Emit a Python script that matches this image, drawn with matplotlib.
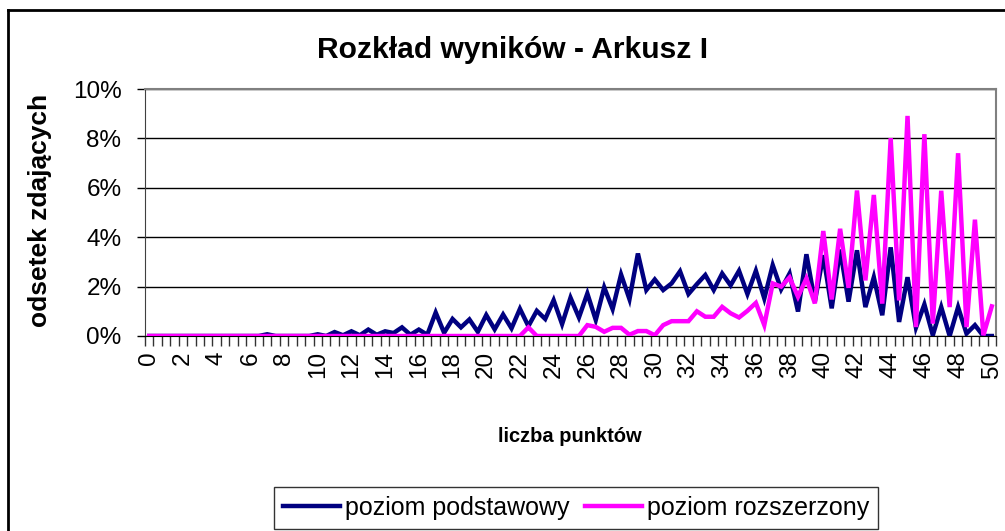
import numpy as np
import matplotlib
matplotlib.use("Agg")
import matplotlib.pyplot as plt
from matplotlib.ticker import FixedLocator, FuncFormatter, MultipleLocator
from matplotlib.lines import Line2D

plt.rcParams['font.family'] = ['Liberation Sans', 'DejaVu Sans']

# kategorie: liczba punktow co 0.5
punkty = np.arange(0, 50.5, 0.5)

# odsetek zdajacych (%), poziom podstawowy
podstawowy = [
    0, 0, 0, 0, 0, 0, 0, 0, 0, 0,
    0, 0, 0, 0, 0.07, 0, 0, 0, 0, 0,
    0.07, 0, 0.16, 0.03, 0.19, 0.03, 0.26, 0.05, 0.19, 0.12,
    0.35, 0.05, 0.26, 0.05, 0.95, 0.13, 0.69, 0.35, 0.67, 0.17,
    0.85, 0.27, 0.87, 0.31, 1.10, 0.40, 1.02, 0.69, 1.45, 0.48,
    1.55, 0.75, 1.72, 0.65, 1.97, 1.09, 2.49, 1.49, 3.34, 1.86,
    2.29, 1.86, 2.13, 2.62, 1.70, 2.10, 2.47, 1.86, 2.53, 2.05,
    2.64, 1.70, 2.64, 1.52, 2.87, 1.89, 2.53, 0.99, 3.31, 1.39,
    3.27, 1.12, 3.50, 1.39, 3.47, 1.17, 2.38, 0.84, 3.59, 0.57,
    2.38, 0.34, 1.28, 0.03, 1.17, 0.0, 1.17, 0.10, 0.44, 0.0,
    0.0,
]

# odsetek zdajacych (%), poziom rozszerzony
rozszerzony = [
    0, 0, 0, 0, 0, 0, 0, 0, 0, 0,
    0, 0, 0, 0, 0, 0, 0, 0, 0, 0,
    0, 0, 0, 0, 0, 0, 0, 0, 0, 0,
    0, 0, 0, 0, 0, 0, 0, 0, 0, 0,
    0, 0, 0, 0, 0, 0.35, 0, 0, 0, 0,
    0, 0, 0.44, 0.37, 0.17, 0.33, 0.33, 0.05, 0.20, 0.20,
    0.03, 0.44, 0.60, 0.60, 0.60, 1.00, 0.78, 0.78, 1.18, 0.92,
    0.75, 1.02, 1.34, 0.44, 2.13, 2.00, 2.37, 1.59, 2.33, 1.32,
    4.25, 1.48, 4.34, 1.95, 5.89, 2.25, 5.71, 1.31, 8.01, 1.44,
    8.91, 0.36, 8.17, 0.50, 5.88, 1.17, 7.40, 0.36, 4.71, 0.03,
    1.20,
]

y_ticks = [0, 2, 4, 6, 8, 10]

fig = plt.figure(figsize=(10.05, 5.31), dpi=100)
ax = fig.add_axes([145 / 1005, 1 - 336 / 531, 851 / 1005, 247 / 531])

x = np.arange(len(punkty))
ax.plot(x, np.array(podstawowy) / 100, color='#000080', lw=3.2,
        solid_joinstyle='miter', label='poziom podstawowy', zorder=3)
ax.plot(x, np.array(rozszerzony) / 100, color='#FF00FF', lw=3.2,
        solid_joinstyle='miter', label='poziom rozszerzony', zorder=4)

ax.set_xlim(-0.5, len(punkty) - 0.5)
ax.set_ylim(0, 0.10)

# os y
ax.yaxis.set_major_locator(FixedLocator([v / 100 for v in y_ticks]))
ax.yaxis.set_major_formatter(FuncFormatter(lambda v, p: '{:.0f}%'.format(v * 100)))
ax.tick_params(axis='y', direction='out', length=6, width=1, labelsize=17.5, pad=11)
ax.grid(axis='y', color='black', linewidth=1)
ax.set_axisbelow(True)

# os x: kreski miedzy kategoriami, etykiety co 2 punkty
ax.xaxis.set_major_locator(FixedLocator(x[::4]))
ax.set_xticklabels(['{:g}'.format(p) for p in punkty[::4]], rotation=90)
ax.xaxis.set_minor_locator(MultipleLocator(1, offset=0.5))
ax.tick_params(axis='x', which='major', length=0, labelsize=17.5, pad=11)
ax.tick_params(axis='x', which='minor', direction='out', length=7, width=1, color='#333333')

for s in ['top', 'right']:
    ax.spines[s].set_color('#808080')
    ax.spines[s].set_linewidth(1.5)
ax.spines['left'].set_color('#404040')
ax.spines['bottom'].set_color('black')

fig.text(513 / 1005, 1 - 50 / 531, 'Rozkład wyników - Arkusz I', ha='center', va='center',
         fontsize=21.6, fontweight='bold')
fig.text(40 / 1005, 1 - 210 / 531, 'odsetek zdających', ha='center', va='center',
         rotation=90, fontsize=19, fontweight='bold')
fig.text(570 / 1005, 1 - 437 / 531, 'liczba punktów', ha='center', va='center',
         fontsize=14.5, fontweight='bold')

leg = fig.legend(loc='center', bbox_to_anchor=(576 / 1005, 1 - 508 / 531), ncol=2,
                 fontsize=18, frameon=True, fancybox=False, shadow=False,
                 handlelength=2.3, handletextpad=0.2, columnspacing=0.6,
                 borderpad=0.35, borderaxespad=0)
leg.get_frame().set_edgecolor('black')
leg.get_frame().set_linewidth(1)
for h in leg.get_lines():
    h.set_linewidth(3.2)

# ramka wykresu
fig.add_artist(Line2D([8 / 1005, 8 / 1005], [0, 1 - 10 / 531], color='black', lw=2,
                      transform=fig.transFigure))
fig.add_artist(Line2D([8 / 1005, 1], [1 - 10 / 531, 1 - 10 / 531], color='black', lw=2,
                      transform=fig.transFigure))

plt.savefig('out.png', dpi=100)
plt.close()
